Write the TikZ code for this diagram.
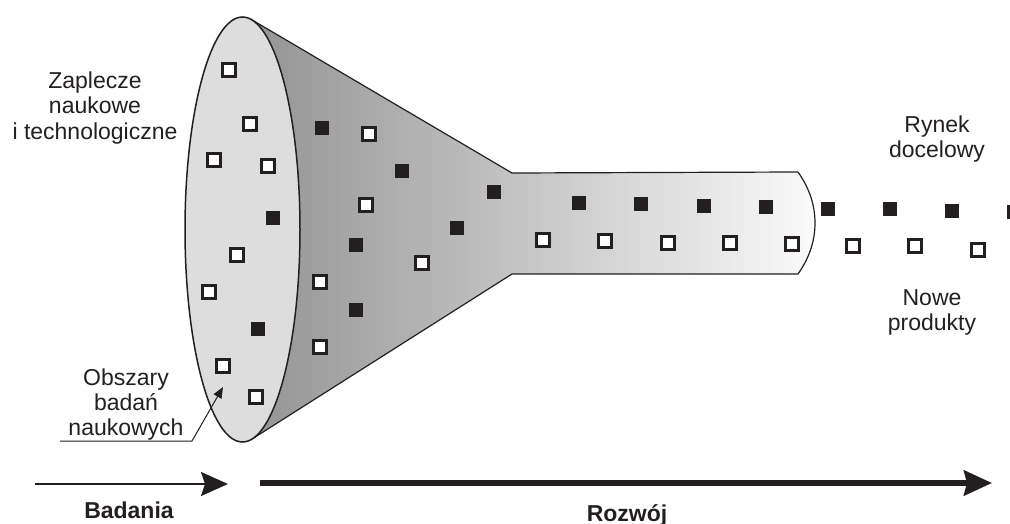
\documentclass[tikz,border=0pt]{standalone}
\usepackage{fontspec}
\setmainfont{Liberation Sans}
\usetikzlibrary{arrows.meta}
\definecolor{ink}{RGB}{35,31,32}
\definecolor{ellfill}{RGB}{221,221,221}
\definecolor{coneL}{RGB}{148,148,148}
\definecolor{coneR}{RGB}{250,250,250}
\tikzset{
  hsq/.style={draw=ink, fill=white, line width=3pt, minimum size=13pt, inner sep=0pt},
  fsq/.style={fill=ink, minimum size=14pt, inner sep=0pt},
  lbl/.style={font=\fontsize{23}{25}\selectfont, text=ink, anchor=base, inner sep=0pt},
  blbl/.style={font=\fontsize{23}{25}\selectfont\bfseries, text=ink, anchor=base, inner sep=0pt},
}
\begin{document}
\begin{tikzpicture}[x=1pt,y=-1pt]
\useasboundingbox (0,0) rectangle (1010,524);
\clip (0,0) rectangle (1010,524);
% funnel body
\path[shade, left color=coneL, right color=coneR, draw=ink, line width=1.2pt, line join=round]
  (251.5,19.6) -- (512,173) -- (798,172)
  .. controls (810,189) and (815,206) .. (815,223)
  .. controls (815,240) and (810,257) .. (798,274)
  -- (512,274) -- (252.2,438.9) -- cycle;
% mouth
\draw[fill=ellfill, draw=ink, line width=1.5pt] (242.5,229.5) ellipse [x radius=57.5pt, y radius=212.5pt];
% hollow squares
\foreach \x/\y [count=\i] in {229/70,250/124,214/160,268/166,237/255,209/292,223/366,256/397,
  369/134,366/205,422/263,320/282,320/347,
  543/240,605/241,668/243,730/243,792/244,853/246,915/246,978/250}
  \node[hsq] (h\i) at (\x,\y) {};
% filled squares
\foreach \x/\y [count=\i] in {322/128,273/218,402/171,494/192,356/245,457/228,356/310,258/329,
  579/203,641/204,704/206,766/207,828/209,890/209,952/211,1014/212}
  \node[fsq] (f\i) at (\x,\y) {};
% labels
\node[lbl] (z1) at (95,89) {Zaplecze};
\node[lbl] (z2) at (95,114) {naukowe};
\node[lbl] (z3) at (95,140) {i technologiczne};
\node[lbl] (o1) at (126,385) {Obszary};
\node[lbl] (o2) at (126,410) {badań};
\node[lbl] (o3) at (126,435) {naukowych};
\node[lbl] (r1) at (937,133) {Rynek};
\node[lbl] (r2) at (937,158) {docelowy};
\node[lbl] (n1) at (932,305) {Nowe};
\node[lbl] (n2) at (932,330) {produkty};
\node[blbl] (bad) at (129,518) {Badania};
\node[blbl] (roz) at (627,521) {Rozwój};
% leader for "Obszary badan naukowych"
\coordinate (ulA) at (60,441);
\coordinate (ulB) at (192,441);
\coordinate (obTip) at (223,387);
\draw[ink, line width=1pt, -{Triangle[length=11pt,width=9pt]}] (ulA) -- (ulB) -- (obTip);
% bottom arrows
\coordinate (bA) at (35,484);
\coordinate (bB) at (228,484);
\coordinate (rA) at (260,483);
\coordinate (rB) at (992,483);
\draw[ink, line width=2pt, -{Stealth[length=27pt,width=24pt,inset=4pt]}] (bA) -- (bB);
\draw[ink, line width=5.5pt, -{Stealth[length=28pt,width=25pt,inset=3pt]}] (rA) -- (rB);
\end{tikzpicture}
\end{document}
